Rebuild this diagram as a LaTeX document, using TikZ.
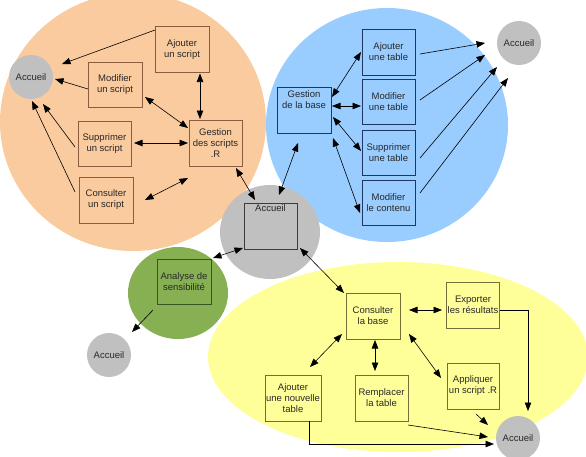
\documentclass[tikz,border=0pt]{standalone}
\usepackage{fontspec}
\setmainfont{Liberation Sans}
\usetikzlibrary{arrows.meta,calc}
\definecolor{orangebg}{RGB}{250,203,158}
\definecolor{bluebg}{RGB}{153,204,255}
\definecolor{graybg}{RGB}{192,192,192}
\definecolor{greenbg}{RGB}{134,176,82}
\definecolor{yellowbg}{RGB}{255,255,153}
\definecolor{textc}{RGB}{40,40,40}
\definecolor{orangeln}{RGB}{140,92,62}
\definecolor{blueln}{RGB}{30,55,100}
\definecolor{greenln}{RGB}{55,85,35}
\definecolor{yellowln}{RGB}{115,110,55}
\definecolor{grayln}{RGB}{60,60,60}
\begin{document}
\begin{tikzpicture}[x=1pt,y=-1pt,
  font=\fontsize{9.5}{11}\selectfont,
  box/.style={draw, line width=0.7pt, align=center, minimum width=54pt, minimum height=46pt, inner sep=1pt, text=textc},
  acc/.style={circle, fill=graybg, minimum size=44pt, inner sep=0pt, text=textc},
  tip/.tip={Triangle[length=8.5pt,width=6.5pt]},
  arr/.style={-tip, line width=0.6pt, draw=black},
  darr/.style={tip-tip, line width=0.6pt, draw=black}]
\useasboundingbox (0,0) rectangle (586,456);
% background regions
\fill[yellowbg] (398,357) ellipse[x radius=190pt, y radius=95pt];
\fill[orangebg] (133,122) ellipse[x radius=133pt, y radius=129pt];
\fill[bluebg] (387,125) ellipse[x radius=121pt, y radius=117pt];
\fill[graybg] (270,232) ellipse[x radius=50pt, y radius=47pt];
\fill[greenbg] (178,293) ellipse[x radius=50pt, y radius=46pt];

% Accueil circles
\node[acc] (acTL) at (31,77) {Accueil};
\node[acc] (acTR) at (519,43) {Accueil};
\node[acc] (acBL) at (109,355) {Accueil};
\node[acc] (acBR) at (518,438) {Accueil};

% orange boxes
\begin{scope}[every node/.append style={draw=orangeln}]
\node[box] (ajS) at (182,49.5) {Ajouter\\un script};
\node[box,minimum height=45pt] (modS) at (115,84.5) {Modifier\\un script};
\node[box,minimum height=45pt,minimum width=53pt] (supS) at (104.5,143.5) {Supprimer\\un script};
\node[box] (conS) at (106,200) {Consulter\\un script};
\node[box,minimum width=53pt] (gesS) at (215.5,143) {Gestion\\des scripts\\.R};
\end{scope}

% blue boxes
\begin{scope}[every node/.append style={draw=blueln}]
\node[box] (gesB) at (304,110) {Gestion\\de la base\\[9pt]};
\node[box,minimum width=53pt] (ajT) at (388.5,52) {Ajouter\\une table};
\node[box,minimum width=53pt,minimum height=45pt] (modT) at (388.5,101.5) {Modifier\\une table};
\node[box,minimum width=53pt,minimum height=45pt] (supT) at (388.5,152.5) {Supprimer\\une table};
\node[box,minimum width=53pt,minimum height=45pt] (conT) at (388.5,202.5) {Modifier\\le contenu};
\end{scope}

% centre
\node[box,draw=grayln,minimum width=53pt,label={[anchor=north,text=textc,inner sep=2pt]north:Accueil}] (acBox) at (270.5,226) {};
\node[box,draw=greenln,minimum height=45pt] (anS) at (184,281.5) {Analyse de\\sensibilité};

% yellow boxes
\begin{scope}[every node/.append style={draw=yellowln}]
\node[box] (conB) at (373,316) {Consulter\\la base};
\node[box,minimum width=52pt] (expR) at (473,305) {Exporter\\les résultats};
\node[box,minimum width=52pt] (appR) at (473,386) {Appliquer\\un script .R};
\node[box,minimum width=53pt] (remT) at (381.5,398) {Remplacer\\la table};
\node[box] (ajNT) at (293,398) {Ajouter\\une nouvelle\\table};
\end{scope}

% orange connectors
\draw[arr] ($(ajS)+(-27,-19.5)$) -- ($(acTL)+(31,-13)$);
\draw[arr] ($(modS)+(-27,4.5)$) -- ($(acTL)+(24,2)$);
\draw[arr] ($(supS)+(-29.5,3.5)$) -- ($(acTL)+(12,27)$);
\draw[arr] ($(conS)+(-31,-8)$) -- ($(acTL)+(1,24)$);
\draw[darr] ($(ajS)+(18,24)$) -- ($(gesS)+(-15.5,-24)$);
\draw[darr] ($(modS)+(30,12.5)$) -- ($(gesS)+(-27.5,-15)$);
\draw[darr] ($(supS)+(29.5,-0.5)$) -- ($(gesS)+(-27.5,0)$);
\draw[darr] ($(conS)+(39,0)$) -- ($(gesS)+(-27.5,35)$);
\draw[darr] ($(gesS)+(20.5,25)$) -- ($(acBox)+(-15.5,-26)$);

% blue connectors
\draw[darr] ($(acBox)+(8.5,-31)$) -- ($(gesB)+(-6,33)$);
\draw[darr] ($(gesB)+(28,-13)$) -- ($(ajT)+(-27.5,0)$);
\draw[darr] ($(gesB)+(28,-4)$) -- ($(modT)+(-27.5,4.5)$);
\draw[darr] ($(gesB)+(29,7)$) -- ($(supT)+(-27.5,-1.5)$);
\draw[darr] ($(gesB)+(29,28)$) -- ($(conT)+(-28.5,10.5)$);
\draw[arr] ($(ajT)+(31.5,2)$) -- ($(acTR)+(-34,0)$);
\draw[arr] ($(modT)+(31.5,-1.5)$) -- ($(acTR)+(-34,12)$);
\draw[arr] ($(supT)+(31.5,5.5)$) -- ($(acTR)+(-22,24)$);
\draw[arr] ($(conT)+(31.5,-9.5)$) -- ($(acTR)+(-11,35)$);

% centre connectors
\draw[darr] ($(anS)+(29,-23.5)$) -- ($(acBox)+(-27.5,22)$);
\draw[arr] ($(anS)+(-31,28.5)$) -- ($(acBL)+(23,-23)$);
\draw[darr] ($(acBox)+(29.5,22)$) -- ($(conB)+(-29,-23)$);

% yellow connectors
\draw[darr] ($(conB)+(36,-6)$) -- ($(expR)+(-31,5)$);
\draw[darr] ($(conB)+(-31,18)$) -- ($(ajNT)+(17,-31)$);
\draw[darr] ($(conB)+(2,24)$) -- ($(remT)+(-6.5,-27)$);
\draw[darr] ($(conB)+(36,18)$) -- ($(appR)+(-32,-8)$);
\draw[arr] ($(expR)+(27,5)$) -| ($(acBR)+(10,-27)$);
\draw[arr] ($(appR)+(3,28)$) -- ($(acBR)+(-30,-13)$);
\draw[arr] ($(remT)+(26.5,27)$) -- ($(acBR)+(-30,-1)$);
\draw[arr] ($(ajNT)+(16,23)$) |- ($(acBR)+(-24,6)$);
\end{tikzpicture}
\end{document}
